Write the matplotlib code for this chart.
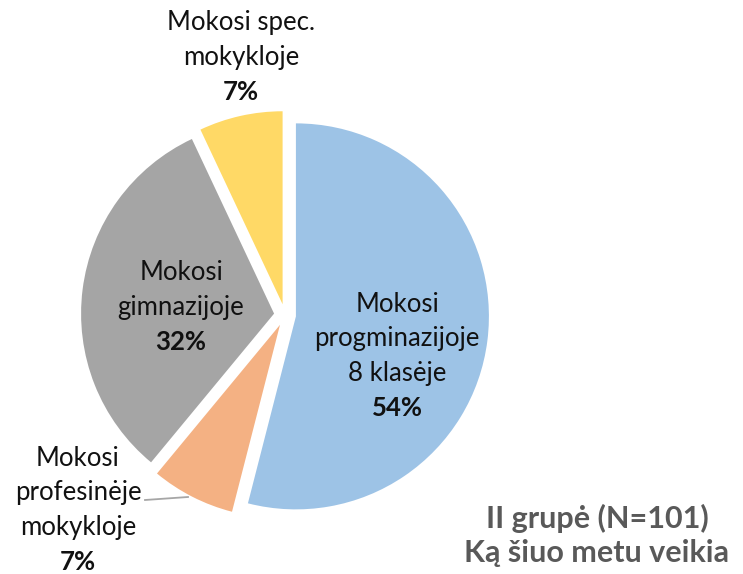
import matplotlib
matplotlib.use("Agg")
import matplotlib.pyplot as plt

labels = ["Mokosi\nprogminazijoje\n8 klasėje", "Mokosi\nprofesinėje\nmokykloje",
          "Mokosi\ngimnazijoje", "Mokosi spec.\nmokykloje"]
shares = [54, 7, 32, 7]
colors = ["#9dc3e6", "#f4b183", "#a5a5a5", "#ffd966"]
title_lines = ["II grupė (N=101)", "Ką šiuo metu veikia"]

plt.rcParams['font.family'] = ['Lato', 'DejaVu Sans']

fig = plt.figure(figsize=(7.43, 5.74), dpi=100)
ax = fig.add_axes([0, 0, 1, 1])

# pixel-like coordinates, y measured from the bottom
ax.pie(shares, colors=colors, startangle=90, counterclock=False,
       center=(285, 259), radius=193, explode=[11] * 4,
       wedgeprops=dict(linewidth=0), frame=True)
ax.set_xlim(0, 743)
ax.set_ylim(0, 574)
ax.set_aspect('equal')
ax.axis('off')

fs = 18.5
step = 34.5
pos = [(397, 218), (78, 64), (181, 267), (241, 517)]
for (x, y), lab, v in zip(pos, labels, shares):
    lines = lab.split("\n") + [f"{v}%"]
    n = len(lines)
    for i, line in enumerate(lines):
        ax.text(x, y + step * ((n - 1) / 2 - i), line, ha='center', va='center',
                fontsize=fs, color='#111111',
                fontweight='bold' if i == n - 1 else 'normal')

# leader line for the small orange slice
ax.plot([145, 188], [74, 77], color='#a6a6a6', lw=1.3)

for i, t in enumerate(title_lines):
    ax.text(597, 56 - 35 * i, t, ha='center', va='center', fontsize=22,
            fontweight='bold', color='#595959')

fig.savefig("out.png", dpi=100)
